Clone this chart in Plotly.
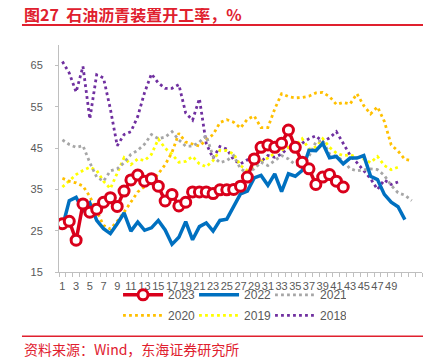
import plotly.graph_objects as go

weeks = list(range(1, 54))
tick_vals = list(range(1, 50, 2))
tick_text = [str(v) for v in tick_vals]
y_ticks = [15, 25, 35, 45, 55, 65]

y2023 = [26.7, 27.3, 22.7, 31.5, 29.5, 30.2, 31.9, 33.0, 30.9, 34.6, 37.3, 38.5, 37.0, 37.6, 35.8,
         32.2, 33.8, 31.0, 31.9, 34.4, 34.4, 34.4, 34.0, 34.9, 34.9, 35.0, 35.8, 38.0, 42.4, 45.2,
         45.8, 45.2, 46.2, 49.4, 45.2, 41.6, 40.0, 36.2, 38.0, 38.6, 37.0, 35.6]
y2022 = [25.9, 32.3, 33.1, 29.9, 31.7, 27.5, 25.5, 24.3, 26.7, 29.3, 24.9, 27.1, 25.1, 25.7, 27.5,
         25.2, 21.7, 23.4, 27.2, 22.8, 26.0, 26.9, 24.9, 27.5, 27.8, 30.9, 33.9, 34.6, 37.8, 38.4,
         36.0, 38.8, 34.5, 38.8, 38.2, 39.6, 44.5, 44.4, 46.2, 42.7, 43.0, 41.2, 42.6, 42.6, 43.2,
         38.2, 37.4, 33.8, 31.9, 30.8, 27.7]
y2021 = [47.0, 45.9, 45.2, 45.6, 41.5, 38.0, 37.0, 39.5, 40.0, 41.5, 43.5, 44.5, 46.0, 48.3, 47.3,
         47.7, 49.0, 47.0, 45.5, 45.5, 46.5, 48.0, 43.0, 41.5, 42.0, 43.2, 40.0, 39.0, 40.0, 41.6,
         40.8, 42.0, 43.2, 42.4, 41.0, 40.8, 43.0, 46.5, 46.9, 43.6, 43.0, 42.0, 40.0, 39.5, 39.8,
         40.0, 39.8, 38.4, 36.0, 34.2, 33.6, 32.3]
y2020 = [37.7, 37.0, 36.6, 35.8, 33.3, 30.0, 26.3, 25.4, 27.3, 29.5, 32.0, 34.4, 35.7, 36.8, 38.8,
         41.0, 44.0, 48.6, 46.5, 46.0, 45.5, 47.0, 48.3, 51.2, 51.9, 51.3, 49.9, 52.0, 52.8, 50.0,
         50.0, 54.5, 58.2, 57.5, 57.2, 57.3, 57.6, 58.4, 58.5, 57.5, 55.6, 56.1, 55.7, 58.2, 55.3,
         53.3, 55.0, 51.5, 45.8, 44.3, 42.3, 42.0]
y2019 = [35.6, 37.2, 38.6, 39.6, 40.4, 39.6, 37.0, 35.2, 39.0, 42.7, 41.0, 42.4, 42.0, 43.5, 47.2,
         45.0, 43.5, 41.6, 41.8, 43.0, 41.2, 40.5, 42.0, 44.5, 44.4, 43.6, 40.8, 39.6, 40.4, 41.8,
         42.6, 43.8, 44.6, 45.2, 45.5, 47.3, 44.8, 45.3, 47.3, 45.2, 43.8, 43.2, 43.4, 42.8, 42.4,
         41.5, 43.0, 40.8, 39.8, 40.4]
y2018 = [66.0, 63.2, 58.6, 64.8, 52.1, 62.8, 62.0, 54.5, 45.6, 48.3, 49.0, 52.7, 58.5, 63.0, 60.8,
         59.5, 59.5, 60.4, 53.5, 51.8, 57.0, 46.1, 42.6, 45.4, 44.8, 42.2, 41.2, 42.2, 41.4, 41.8,
         43.2, 42.8, 43.6, 45.2, 44.6, 46.2, 47.3, 48.0, 46.5, 47.5, 49.0, 46.2, 43.3, 41.5, 39.6,
         37.6, 35.0, 37.3, 36.2, 36.8]

RED = "#D9001B"
TITLE_RED = "#E0202E"
BLUE = "#0070C0"
GREY = "#A6A6A6"
ORANGE = "#FFC000"
YELLOW = "#FFFF00"
PURPLE = "#7030A0"

fig = go.Figure()

def dotted(name, ys, color, legend, rank):
    fig.add_trace(go.Scatter(
        x=weeks[:len(ys)], y=ys, name=name, mode="lines",
        line=dict(color=color, width=2.8, dash="2.8px,3.2px"),
        legend=legend, legendrank=rank, hoverinfo="skip"))

dotted("2018", y2018, PURPLE, "legend2", 6)
dotted("2019", y2019, YELLOW, "legend2", 5)
dotted("2020", y2020, ORANGE, "legend2", 4)
dotted("2021", y2021, GREY, "legend", 3)

fig.add_trace(go.Scatter(
    x=weeks[:len(y2022)], y=y2022, name="2022", mode="lines",
    line=dict(color=BLUE, width=3.5), legend="legend", legendrank=2))
fig.add_trace(go.Scatter(
    x=weeks[:len(y2023)], y=y2023, name="2023", mode="lines+markers",
    line=dict(color=RED, width=3.5),
    marker=dict(symbol="circle", size=10, color="white", line=dict(color=RED, width=3)),
    legend="legend", legendrank=1))

# The page body adds an 8px offset; the figure is laid out in reference-pixel terms.
OFF = 8
W, H = 423, 356
PL, PR, PT, PB = 59, 421.7, 44.6, 271.7   # plot area edges in reference pixels
margin = dict(l=PL - OFF, r=W - (PR - OFF), t=PT - OFF, b=H - (PB - OFF), autoexpand=False)

def px_x(x):
    return (x - PL) / (PR - PL)

def px_y(y):
    return (PB - y) / (PB - PT)

axis_font = dict(family="Liberation Sans, Arial, sans-serif", size=11, color="#595959")
legend_font = dict(family="Liberation Sans, Arial, sans-serif", size=12, color="#595959")

legend_common = dict(orientation="h", xanchor="left", yanchor="middle", font=legend_font,
                     entrywidth=21, entrywidthmode="pixels", itemwidth=40,
                     bgcolor="rgba(0,0,0,0)", tracegroupgap=0, borderwidth=0)

fig.update_layout(
    width=W, height=H,
    margin=margin,
    plot_bgcolor="white", paper_bgcolor="white",
    font=axis_font,
    showlegend=True,
    legend=dict(x=px_x(118), y=px_y(294.5), **legend_common),
    legend2=dict(x=px_x(118), y=px_y(315), **legend_common),
    xaxis=dict(range=[0.5, 53.5], tickmode="array", tickvals=tick_vals, ticktext=tick_text,
               tickangle=0, showgrid=False, zeroline=False, showline=True, linecolor="#BFBFBF",
               linewidth=1, ticks="outside", ticklen=4, tickcolor="rgba(0,0,0,0)",
               tickfont=axis_font, ticklabelstandoff=0,
               minor=dict(tickmode="array", tickvals=[v + 0.5 for v in range(0, 54)],
                          ticks="outside", ticklen=4, tickcolor="#BFBFBF", showgrid=False)),
    yaxis=dict(range=[15, 70], tickmode="array", tickvals=y_ticks, showgrid=False, zeroline=False,
               showline=True, linecolor="#BFBFBF", linewidth=1, ticks="outside", ticklen=3,
               tickcolor="#BFBFBF", tickfont=axis_font, ticklabelstandoff=10),
)

fig.add_annotation(text="<b>图27\u00a0\u00a0石油沥青装置开工率，%</b>", xref="paper", yref="paper",
                   x=px_x(22), y=px_y(14), xanchor="left", yanchor="middle", showarrow=False,
                   font=dict(family="Noto Sans CJK SC", size=16, color=TITLE_RED))
fig.add_annotation(text="资料来源：Wind，东海证券研究所", xref="paper", yref="paper",
                   x=px_x(22), y=px_y(349), xanchor="left", yanchor="middle", showarrow=False,
                   font=dict(family="Noto Sans CJK SC", size=14, color=TITLE_RED))
fig.add_shape(type="line", xref="paper", yref="paper", x0=px_x(22), x1=px_x(423),
              y0=px_y(24.5), y1=px_y(24.5), line=dict(color=TITLE_RED, width=2))
fig.add_shape(type="line", xref="paper", yref="paper", x0=px_x(22), x1=px_x(423),
              y0=px_y(336), y1=px_y(336), line=dict(color=TITLE_RED, width=1.5))

fig.write_html("out.html")
